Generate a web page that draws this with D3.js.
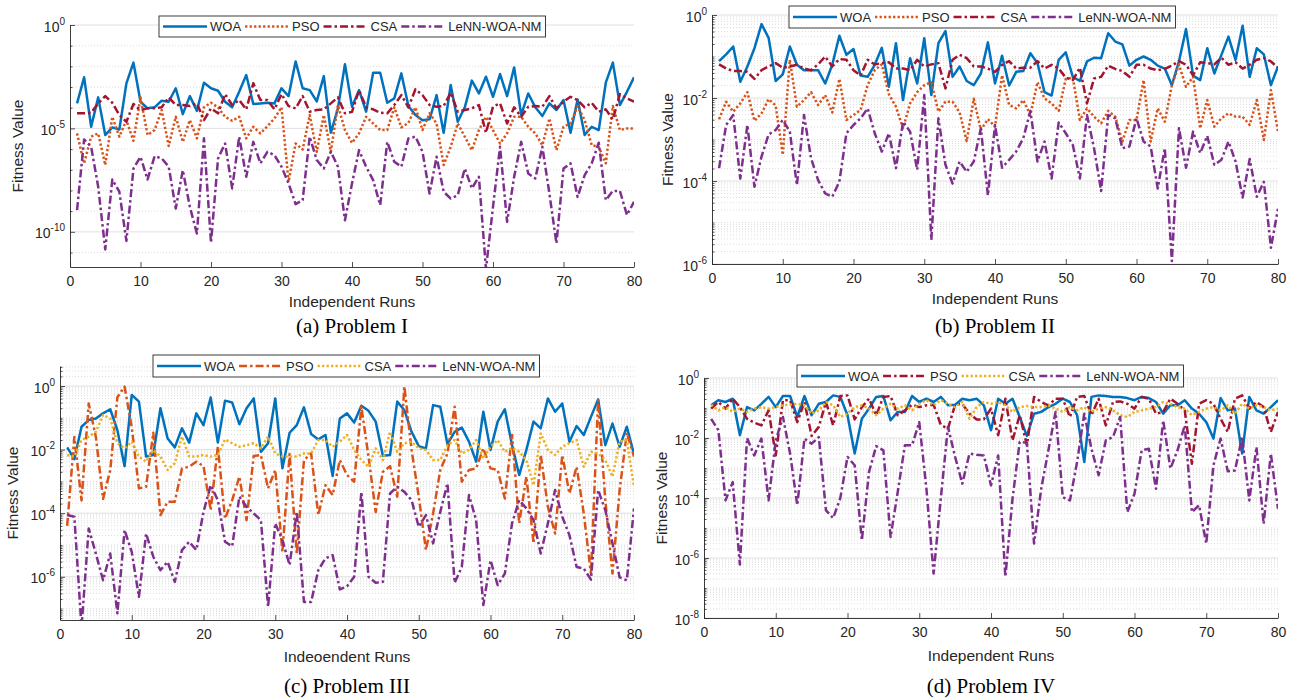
<!DOCTYPE html>
<html><head><meta charset="utf-8">
<script src="https://cdn.jsdelivr.net/npm/d3@7"></script>
<style>body{margin:0;background:#fff} svg text{font-family:"Liberation Sans",Arial,Helvetica,sans-serif;fill:#262626}</style>
</head><body><svg id="chart" width="1299" height="698"></svg>
<script>
// Runs 1..80 (x categories)
const runs = d3.range(1, 81);
const xTicks = [0,10,20,30,40,50,60,70,80];
const seriesNames = ["WOA","PSO","CSA","LeNN-WOA-NM"];
// All series values are log10(Fitness Value).
// ---- Problem I
const a_WOA = [-3.79,-2.53,-4.92,-3.5,-5.32,-4.95,-5.05,-2.82,-1.82,-3.71,-4.03,-3.98,-3.66,-3.71,-3.06,-4.31,-3.44,-4.15,-2.79,-3.06,-3.18,-3.71,-3.98,-3.23,-2.42,-3.82,-3.79,-3.76,-3.79,-3.06,-3.44,-1.76,-3.06,-3.15,-3.69,-2.47,-5.21,-4.03,-1.9,-3.95,
 -3.15,-4.19,-2.31,-2.31,-3.76,-3.55,-2.34,-3.92,-4.35,-4.6,-4.56,-3.39,-5.21,-2.9,-4.68,-3.98,-2.69,-3.31,-2.5,-3.47,-2.37,-3.44,-2.05,-4.35,-3.31,-3.98,-4.4,-3.79,-4.11,-3.63,-5.21,-3.6,-5.32,-4.92,-5.08,-2.79,-1.82,-3.87,-3.23,-2.53];
const a_PSO = [-5.24,-6.69,-5.4,-5.24,-6.77,-4.44,-5.4,-4.6,-5.6,-3.5,-5.32,-5.08,-4.11,-5.85,-4.44,-5.65,-4.6,-5.48,-3.98,-3.76,-3.98,-4.44,-4.63,-4.44,-5.48,-4.92,-5.24,-4.89,-4.52,-3.98,-7.58,-5.73,-6.02,-4.35,-6.13,-4.35,-6.13,-3.87,-5.08,-5.7,
 -5.24,-4.44,-4.76,-5.08,-5.08,-3.98,-4.95,-4.73,-3.98,-5.08,-4.27,-4.76,-6.77,-5.89,-4.76,-5.4,-6.05,-5.08,-4.44,-5.08,-5.73,-5.24,-4.44,-4.44,-4.92,-5.24,-5.81,-4.52,-6.05,-4.92,-4.76,-3.92,-4.6,-5.81,-5.89,-6.69,-3.92,-5.08,-5.0,-5.0];
const a_CSA = [-4.27,-4.27,-4.24,-3.79,-3.44,-3.76,-4.35,-4.68,-3.82,-4.11,-4.03,-4.03,-3.98,-3.5,-3.87,-3.87,-3.92,-3.79,-4.6,-4.03,-4.27,-3.34,-3.87,-3.63,-4.08,-2.82,-3.63,-3.63,-4.08,-3.34,-3.92,-4.03,-3.44,-4.19,-4.11,-4.08,-3.79,-3.5,-4.27,-4.2,
 -3.15,-3.98,-4.08,-4.24,-4.27,-3.87,-3.39,-3.98,-3.11,-3.39,-3.87,-3.95,-3.92,-3.27,-4.19,-4.11,-4.03,-3.87,-5.21,-3.95,-3.79,-4.76,-3.98,-4.44,-3.95,-3.92,-3.95,-3.44,-4.03,-3.71,-3.47,-3.63,-3.98,-3.76,-4.19,-4.08,-4.56,-3.34,-3.55,-3.71];
const a_LeNN = [-8.95,-5.53,-5.89,-7.82,-10.85,-7.47,-8.06,-10.44,-6.94,-6.37,-7.47,-6.34,-6.45,-6.85,-8.87,-7.02,-8.79,-10.08,-5.48,-10.53,-6.45,-5.73,-7.9,-5.4,-7.34,-5.65,-6.69,-6.13,-6.29,-6.85,-7.66,-8.66,-8.47,-5.4,-6.53,-6.94,-6.13,-6.85,-9.44,-7.66,
 -6.05,-6.85,-7.5,-8.71,-5.65,-6.61,-6.85,-5.48,-5.4,-6.13,-8.15,-6.37,-8.06,-8.39,-8.23,-6.94,-7.9,-7.34,-11.8,-8.79,-5.89,-9.52,-7.34,-5.65,-7.18,-7.42,-5.89,-8.15,-10.56,-6.94,-6.69,-8.31,-7.26,-6.69,-5.69,-8.47,-8.02,-8.02,-9.19,-8.55];
// ---- Problem II
const b_WOA = [-1.11,-0.95,-0.76,-1.61,-1.24,-0.8,-0.22,-0.55,-1.59,-1.43,-0.76,-1.2,-1.33,-1.33,-1.33,-1.65,-1.2,-0.5,-0.96,-0.82,-1.46,-1.49,-1.2,-0.79,-1.73,-0.68,-2.05,-1.04,-1.65,-0.56,-1.93,-0.68,-0.39,-1.49,-1.24,-1.59,-1.69,-1.41,-0.66,-1.65,
 -0.98,-1.7,-1.37,-1.35,-0.92,-1.16,-1.86,-1.94,-1.08,-0.9,-1.49,-1.59,-1.12,-1.03,-1.04,-0.44,-0.64,-0.71,-1.22,-1.08,-1.0,-1.08,-1.22,-1.29,-1.69,-1.12,-0.34,-1.46,-1.57,-0.8,-1.41,-0.96,-0.52,-1.08,-0.26,-1.49,-0.8,-0.95,-1.69,-1.24];
const b_PSO = [-2.51,-2.09,-2.33,-2.13,-1.86,-2.55,-2.37,-2.03,-2.18,-3.37,-1.08,-2.21,-2.05,-1.86,-2.17,-1.93,-2.35,-1.54,-2.53,-2.41,-2.29,-1.69,-1.33,-1.19,-1.91,-2.21,-2.73,-2.13,-1.86,-1.69,-1.62,-2.33,-2.09,-2.09,-2.35,-3.04,-2.02,-2.77,-2.51,-2.69,
 -1.45,-2.17,-2.25,-2.05,-2.41,-1.62,-2.01,-2.13,-2.31,-1.54,-1.51,-2.53,-2.25,-2.45,-2.61,-2.31,-2.45,-3.05,-2.53,-2.53,-1.57,-3.05,-2.25,-2.57,-1.69,-1.2,-1.73,-1.49,-2.73,-2.05,-2.69,-2.49,-2.37,-2.45,-2.45,-2.65,-2.05,-3.01,-1.81,-2.81];
const b_CSA = [-1.19,-1.29,-1.35,-1.35,-1.37,-1.54,-1.33,-1.24,-1.16,-1.27,-1.24,-1.2,-1.29,-1.33,-1.19,-1.0,-1.24,-1.06,-1.08,-1.33,-1.46,-1.08,-1.19,-1.16,-1.14,-1.29,-1.29,-1.33,-1.08,-1.24,-1.19,-1.16,-1.77,-1.08,-0.96,-1.04,-1.24,-1.24,-1.29,-1.37,
 -1.2,-1.11,-1.29,-1.27,-1.27,-1.11,-1.29,-1.2,-1.29,-1.51,-1.57,-1.27,-2.13,-1.53,-1.49,-1.22,-1.3,-1.35,-1.49,-1.2,-1.2,-1.29,-1.33,-1.3,-1.22,-1.11,-1.2,-1.45,-1.14,-1.16,-1.19,-1.03,-1.2,-1.14,-1.29,-1.2,-1.08,-1.04,-1.12,-1.27];
const b_LeNN = [-3.69,-2.65,-2.41,-3.94,-2.65,-4.14,-3.41,-2.88,-2.77,-2.53,-2.81,-4.1,-2.41,-3.45,-3.98,-4.3,-4.38,-4.02,-2.85,-2.65,-2.49,-2.25,-2.85,-3.29,-2.85,-3.69,-2.57,-2.81,-3.73,-1.93,-5.42,-2.49,-3.61,-4.06,-3.53,-3.78,-3.53,-2.73,-4.35,-2.65,
 -3.68,-3.49,-3.29,-2.97,-2.31,-3.53,-3.05,-3.94,-2.59,-2.85,-3.13,-3.94,-2.41,-3.21,-4.24,-2.41,-2.49,-3.21,-3.17,-2.49,-3.05,-3.17,-4.18,-3.21,-5.93,-2.73,-3.68,-2.81,-3.33,-2.91,-3.61,-3.49,-3.05,-3.53,-4.4,-3.47,-4.38,-4.02,-5.61,-4.67];
// ---- Problem III
const c_WOA = [-1.93,-2.3,-1.28,-1.07,-1.02,-0.86,-0.73,-1.39,-2.52,-0.28,-0.49,-2.22,-2.17,-0.7,-1.65,-1.93,-1.33,-1.78,-0.86,-1.23,-0.36,-1.78,-0.46,-0.52,-1.2,-0.7,-0.39,-2.07,-1.8,-0.39,-2.59,-1.47,-1.23,-0.67,-1.51,-1.68,-1.54,-2.83,-1.02,-0.86,
 -1.15,-0.62,-0.78,-1.12,-2.19,-2.17,-0.49,-0.76,-1.44,-1.89,-1.96,-0.6,-0.65,-1.83,-1.44,-1.31,-1.75,-2.38,-0.81,-2.01,-1.12,-0.73,-1.86,-2.8,-2.01,-1.12,-1.33,-0.39,-0.81,-0.55,-1.75,-1.26,-1.54,-0.97,-0.42,-1.86,-1.18,-1.91,-1.28,-2.14];
const c_PSO = [-4.4,-1.6,-3.6,-0.55,-1.6,-3.55,-2.65,-0.35,-0.02,-1.3,-3.22,-3.17,-1.47,-4.06,-3.64,-3.64,-2.59,-2.54,-2.38,-2.52,-3.9,-1.91,-4.17,-3.59,-2.85,-4.22,-2.2,-2.17,-3.22,-2.64,-5.22,-2.14,-5.27,-2.33,-2.12,-4.06,-3.12,-3.43,-2.33,-2.8,
 -3.01,-0.65,-2.22,-3.96,-2.7,-2.52,-3.48,-0.02,-2.01,-3.48,-5.16,-4.01,-2.64,-2.12,-0.65,-3.01,-2.64,-2.59,-1.96,-2.59,-2.64,-3.54,-1.54,-4.32,-2.85,-4.95,-2.17,-3.8,-4.64,-2.17,-3.38,-2.54,-4.01,-5.9,-0.44,-3.59,-5.9,-3.27,-1.47,-2.22];
const c_CSA = [-2.17,-2.22,-1.7,-1.59,-1.44,-0.91,-1.02,-1.8,-1.96,-1.75,-2.22,-2.38,-2.01,-2.22,-2.64,-2.43,-1.59,-2.22,-2.22,-2.17,-2.22,-2.17,-1.68,-1.8,-1.91,-1.86,-1.8,-1.96,-1.59,-2.12,-2.22,-2.22,-2.22,-2.12,-2.12,-1.7,-1.7,-1.91,-1.75,-1.54,
 -2.01,-2.33,-2.54,-1.96,-2.33,-1.44,-2.07,-1.8,-1.75,-1.96,-2.01,-2.33,-2.33,-1.86,-1.7,-2.12,-2.01,-1.7,-2.28,-1.91,-1.7,-2.07,-1.96,-2.07,-2.33,-3.12,-1.49,-2.01,-2.17,-1.91,-1.8,-1.7,-2.54,-2.07,-2.12,-2.33,-2.85,-1.75,-1.7,-3.17];
const c_LeNN = [-4.06,-4.11,-7.6,-4.48,-5.27,-6.11,-5.27,-7.15,-4.53,-5.22,-6.63,-4.64,-5.37,-5.79,-5.53,-6.16,-5.16,-4.9,-5.16,-3.96,-3.12,-3.59,-4.9,-5.04,-3.48,-3.8,-4.01,-4.22,-6.95,-4.32,-4.85,-5.63,-3.96,-6.79,-6.79,-5.79,-5.42,-5.32,-6.4,-6.3,
 -6.0,-3.33,-6.0,-6.19,-6.16,-3.38,-3.17,-3.33,-3.59,-4.43,-4.06,-4.95,-3.96,-3.06,-6.19,-5.69,-3.43,-4.22,-6.89,-5.48,-6.26,-5.9,-4.32,-3.59,-3.85,-4.22,-5.27,-4.32,-3.27,-4.11,-4.69,-5.69,-5.74,-6.09,-3.27,-3.9,-4.95,-6.02,-6.11,-3.85];
// ---- Problem IV
const d_WOA = [-0.91,-0.74,-0.8,-0.69,-1.91,-0.97,-1.08,-0.86,-0.63,-0.97,-0.6,-0.6,-1.3,-0.6,-1.24,-0.86,-0.8,-0.58,-0.63,-1.24,-2.52,-1.36,-1.02,-0.63,-0.6,-1.41,-1.13,-1.13,-0.6,-0.8,-0.69,-0.8,-0.63,-0.91,-0.89,-0.69,-0.74,-0.69,-0.91,-1.74,
 -0.69,-0.86,-0.69,-1.3,-1.93,-1.19,-1.13,-0.97,-0.86,-0.69,-0.8,-1.24,-2.8,-0.63,-0.58,-0.6,-0.63,-0.63,-0.67,-0.74,-0.63,-0.67,-0.8,-1.19,-0.91,-0.91,-0.74,-1.02,-1.19,-1.47,-2.02,-0.67,-1.08,-1.02,-2.52,-0.63,-1.08,-1.19,-0.97,-0.74];
const d_PSO = [-1.02,-0.8,-1.02,-0.69,-0.97,-1.36,-1.49,-1.58,-1.08,-2.58,-0.74,-0.74,-1.47,-0.8,-1.93,-1.63,-0.8,-1.58,-0.6,-0.58,-1.38,-0.97,-0.69,-1.24,-0.63,-0.6,-1.24,-1.08,-0.89,-0.97,-0.91,-0.89,-1.56,-1.69,-0.89,-0.86,-1.19,-1.38,-1.38,-1.02,
 -1.91,-0.69,-2.08,-1.24,-2.24,-0.63,-0.8,-0.91,-0.69,-0.69,-1.3,-0.63,-0.6,-1.24,-0.69,-1.58,-0.8,-0.78,-0.86,-1.02,-0.63,-0.69,-1.19,-1.13,-0.69,-0.86,-1.08,-2.86,-0.86,-0.74,-0.86,-1.36,-1.8,-0.69,-0.58,-1.02,-0.8,-0.97,-1.8,-1.13];
const d_CSA = [-0.89,-1.08,-0.97,-1.13,-1.02,-1.13,-1.02,-0.97,-1.02,-0.97,-0.91,-0.89,-0.86,-0.91,-1.19,-1.08,-0.8,-0.91,-1.3,-1.19,-0.97,-0.91,-1.02,-1.24,-1.02,-0.86,-1.02,-0.91,-1.08,-0.86,-0.74,-0.91,-0.74,-0.86,-0.97,-0.8,-1.36,-0.97,-0.8,-0.86,
 -0.8,-0.91,-1.13,-0.97,-0.93,-0.97,-0.97,-0.91,-1.02,-1.13,-0.97,-1.08,-0.97,-1.13,-1.02,-0.97,-1.08,-1.24,-1.3,-1.13,-1.08,-1.02,-0.97,-0.8,-0.86,-0.97,-1.02,-1.24,-1.13,-1.02,-0.97,-1.08,-0.91,-1.19,-0.86,-1.02,-0.91,-0.97,-1.08,-1.02];
const d_LeNN = [-1.36,-1.74,-4.08,-3.47,-6.22,-2.0,-2.58,-2.02,-4.08,-2.08,-1.3,-2.52,-4.24,-2.02,-2.19,-1.97,-4.41,-4.67,-4.0,-2.63,-2.91,-5.41,-3.13,-2.27,-2.41,-5.3,-3.8,-2.24,-2.24,-1.47,-3.69,-6.52,-4.02,-1.63,-2.63,-3.52,-2.52,-2.56,-2.58,-3.58,
 -2.58,-6.63,-4.02,-2.13,-2.16,-5.52,-3.69,-2.41,-1.13,-3.97,-4.08,-2.8,-1.19,-2.36,-3.24,-2.08,-1.97,-1.3,-4.47,-3.86,-2.41,-2.36,-3.69,-1.41,-3.02,-2.41,-1.58,-4.47,-4.24,-5.52,-2.91,-2.02,-3.11,-3.08,-1.97,-4.08,-2.3,-4.86,-2.52,-4.36];

// ---------------- styles & layout ----------------
const C = {blue:"#0072BD", orange:"#D95319", yellow:"#EDB120", purple:"#7E2F8E", red:"#A2142F"};
const SOLID = null, DOT = "2.3,2.2", DASHDOT = "8,3,2.5,3";
const panels = [
  {id:"a", x0:70, x1:634, y0:25, y1:267, ymin:-11.7, ymax:0, majors:[0,-5,-10], sub:false,
   legend:{x:159,y:16,h:21}, ylabX:18, xlabY:302, xlabel:"Independent Runs", caption:"(a) Problem I", capY:333,
   series:[[a_WOA,C.blue,SOLID],[a_PSO,C.orange,DOT],[a_CSA,C.red,DASHDOT],[a_LeNN,C.purple,DASHDOT]]},
  {id:"b", x0:712, x1:1278, y0:15, y1:264, ymin:-6, ymax:0, majors:[0,-2,-4,-6], sub:true,
   legend:{x:789,y:6,h:22}, ylabX:668, xlabY:299, xlabel:"Independent Runs", caption:"(b) Problem II", capY:333,
   series:[[b_WOA,C.blue,SOLID],[b_PSO,C.orange,DOT],[b_CSA,C.red,DASHDOT],[b_LeNN,C.purple,DASHDOT]]},
  {id:"c", x0:60, x1:634, y0:366, y1:620, ymin:-7.36, ymax:0.63, majors:[0,-2,-4,-6], sub:true,
   legend:{x:153,y:355,h:22}, ylabX:13, xlabY:657, xlabel:"Indeoendent Runs", caption:"(c) Problem III", capY:693,
   series:[[c_WOA,C.blue,SOLID],[c_PSO,C.orange,DASHDOT],[c_CSA,C.yellow,DOT],[c_LeNN,C.purple,DASHDOT]]},
  {id:"d", x0:704, x1:1278, y0:378, y1:618, ymin:-8, ymax:0, majors:[0,-2,-4,-6,-8], sub:true,
   legend:{x:797,y:365,h:22}, ylabX:662, xlabY:656, xlabel:"Independent Runs", caption:"(d) Problem IV", capY:693,
   series:[[d_WOA,C.blue,SOLID],[d_PSO,C.red,DASHDOT],[d_CSA,C.yellow,DOT],[d_LeNN,C.purple,DASHDOT]]}
];

const svg = d3.select("#chart");

panels.forEach(p => {
  const x = d3.scaleLinear().domain([0,80]).range([p.x0,p.x1]);
  const y = d3.scaleLog().domain([10**p.ymin, 10**p.ymax]).range([p.y1,p.y0]);
  const g = svg.append("g");
  const inDom = v => v >= 10**p.ymin*0.9999 && v <= 10**p.ymax*1.0001;

  // grid
  const minorVals = [], majorVals = p.majors.map(k => 10**k);
  for (let k = Math.floor(p.ymin); k <= Math.ceil(p.ymax); k++) {
    if (!p.majors.includes(k) && inDom(10**k)) minorVals.push(10**k);
    if (p.sub) for (let m = 2; m <= 9; m++) { const v = m*10**k; if (inDom(v)) minorVals.push(v); }
  }
  g.selectAll(".mg").data(minorVals).join("line")
    .attr("x1",p.x0).attr("x2",p.x1).attr("y1",d=>y(d)).attr("y2",d=>y(d))
    .attr("stroke","#cfcfcf").attr("stroke-width",0.7).attr("stroke-dasharray","1,2");
  g.selectAll(".Mg").data(majorVals).join("line")
    .attr("x1",p.x0).attr("x2",p.x1).attr("y1",d=>y(d)).attr("y2",d=>y(d))
    .attr("stroke","#dcdcdc").attr("stroke-width",0.9);

  // data lines
  const cid = "clip"+p.id;
  svg.append("clipPath").attr("id",cid).append("rect")
    .attr("x",p.x0).attr("y",p.y0).attr("width",p.x1-p.x0).attr("height",p.y1-p.y0);
  const line = d3.line().x(d=>x(d[0])).y(d=>y(10**d[1]));
  const lg = g.append("g").attr("clip-path",`url(#${cid})`);
  p.series.forEach(([vals,col,dash]) => {
    lg.append("path").datum(runs.map((r,i)=>[r,vals[i]]))
      .attr("d",line).attr("fill","none").attr("stroke",col)
      .attr("stroke-width",2.5)
      .attr("stroke-dasharray", dash).attr("stroke-linejoin","round");
  });

  // axes
  const xa = g.append("g").attr("transform",`translate(0,${p.y1})`)
    .call(d3.axisBottom(x).tickValues(xTicks).tickSizeInner(-5).tickSizeOuter(0).tickPadding(9));
  xa.selectAll("text").attr("font-size",14).style("fill","#262626");
  const ya = g.append("g").attr("transform",`translate(${p.x0},0)`)
    .call(d3.axisLeft(y).tickValues(majorVals).tickSizeInner(-5).tickSizeOuter(0).tickFormat(()=>""));
  g.append("g").attr("transform",`translate(${p.x0},0)`)
    .call(d3.axisLeft(y).tickValues(minorVals).tickSizeInner(-2.5).tickSizeOuter(0).tickFormat(()=>""))
    .select(".domain").remove();
  g.selectAll(".domain").attr("stroke","#262626").attr("stroke-width",0.9);
  g.selectAll(".tick line").attr("stroke","#262626").attr("stroke-width",0.8);
  ya.selectAll(".tick").each(function(d){
    const t = d3.select(this).append("text").attr("x",-5).attr("y",6).attr("text-anchor","end")
      .attr("font-size",14).style("fill","#262626");
    t.append("tspan").text("10");
    t.append("tspan").attr("dy",-7).attr("font-size",10).text(Math.round(Math.log10(d)));
  });

  // labels
  g.append("text").attr("x",(p.x0+p.x1)/2).attr("y",p.xlabY).attr("dy","0.35em")
    .attr("text-anchor","middle").attr("font-size",15.5).text(p.xlabel);
  g.append("text").attr("transform",`translate(${p.ylabX},${(p.y0+p.y1)/2}) rotate(-90)`).attr("dy","0.35em")
    .attr("text-anchor","middle").attr("font-size",15.5).text("Fitness Value");
  g.append("text").attr("x",(p.x0+p.x1)/2).attr("y",p.capY).attr("text-anchor","middle")
    .attr("font-size",21).style("font-family","'Liberation Serif','Times New Roman',serif").style("fill","#000")
    .text(p.caption);

  // legend
  const L = p.legend, lgd = g.append("g");
  const box = lgd.append("rect").attr("x",L.x).attr("y",L.y).attr("height",L.h)
    .attr("fill","#fff").attr("stroke","#262626").attr("stroke-width",0.9);
  let cx = L.x + 4;
  const cy = L.y + L.h/2;
  p.series.forEach(([vals,col,dash],i) => {
    lgd.append("line").attr("x1",cx).attr("x2",cx+44).attr("y1",cy).attr("y2",cy)
      .attr("stroke",col).attr("stroke-width",2.5).attr("stroke-dasharray",dash);
    const t = lgd.append("text").attr("x",cx+47).attr("y",cy).attr("dy","0.36em")
      .attr("font-size",13).text(seriesNames[i]);
    cx = cx + 47 + t.node().getComputedTextLength() + 4;
  });
  box.attr("width", cx - L.x);
});
</script></body></html>
